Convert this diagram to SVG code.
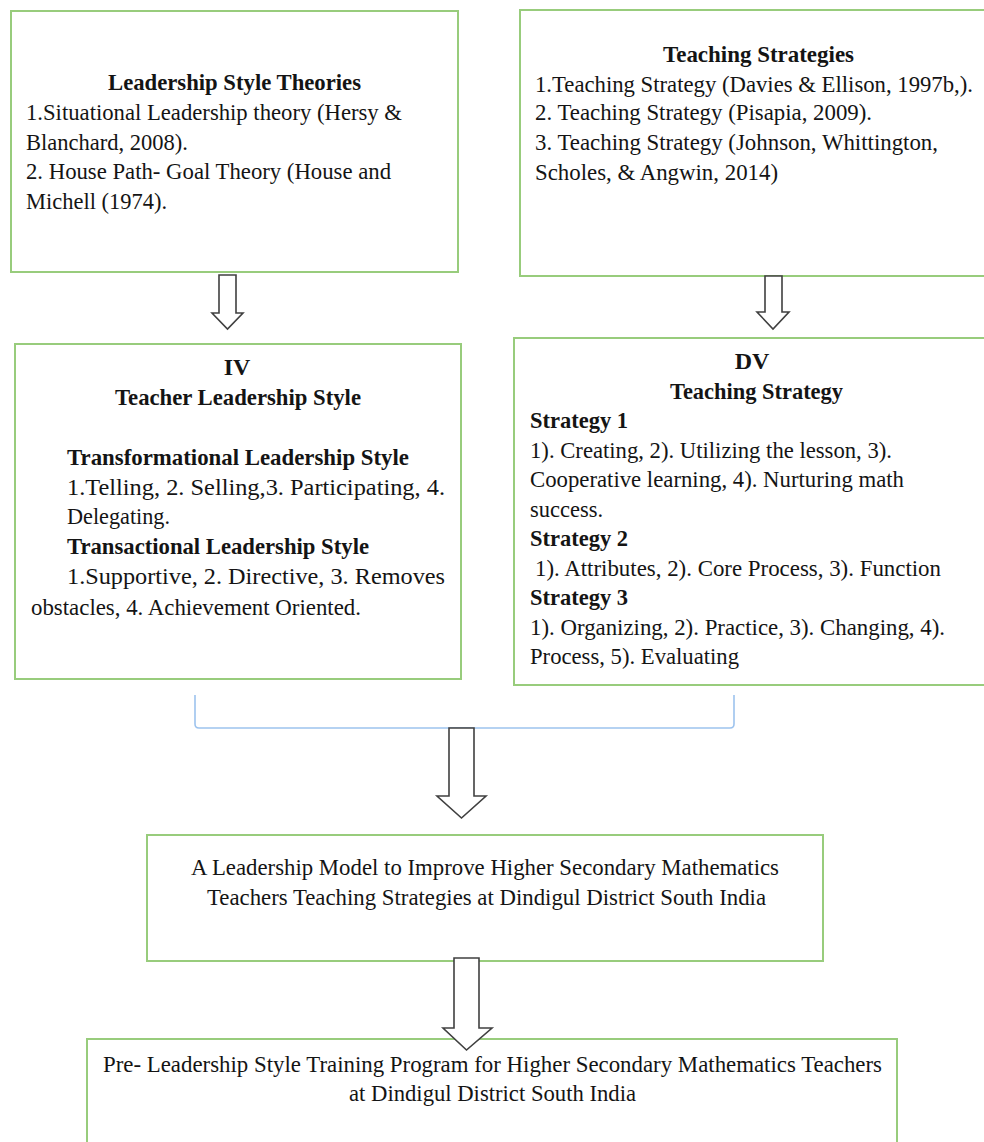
<svg xmlns="http://www.w3.org/2000/svg" width="984" height="1142" viewBox="0 0 984 1142">
<style>
.box{fill:#ffffff;stroke:#98cc7c;stroke-width:2}
.t{font-family:"Liberation Serif","Times New Roman",Times,"DejaVu Serif",serif;font-size:24px;fill:#141414}
.b{font-weight:bold}
.c{text-anchor:middle}
.arrow{fill:#ffffff;stroke:#404040;stroke-width:1.6;stroke-linejoin:miter}
.bracket{fill:none;stroke:#9dc3ee;stroke-width:1.6}
</style>
<rect width="984" height="1142" fill="#ffffff"/>

<g id="node-leadership-theories">
<rect class="box" x="11" y="11" width="447" height="261"/>
<text class="t b c" x="234.5" y="90" textLength="253" lengthAdjust="spacingAndGlyphs">Leadership Style Theories</text>
<text class="t" x="26" y="120" textLength="376" lengthAdjust="spacingAndGlyphs">1.Situational Leadership theory (Hersy &amp;</text>
<text class="t" x="26" y="150" textLength="162" lengthAdjust="spacingAndGlyphs">Blanchard, 2008).</text>
<text class="t" x="26" y="179" textLength="365" lengthAdjust="spacingAndGlyphs">2. House Path- Goal Theory (House and</text>
<text class="t" x="26" y="209" textLength="141" lengthAdjust="spacingAndGlyphs">Michell (1974).</text>
</g>

<g id="node-teaching-strategies">
<rect class="box" x="520" y="10" width="500" height="266"/>
<text class="t b c" x="758.5" y="62" textLength="191" lengthAdjust="spacingAndGlyphs">Teaching Strategies</text>
<text class="t" x="535" y="92" textLength="438" lengthAdjust="spacingAndGlyphs">1.Teaching Strategy (Davies &amp; Ellison, 1997b,).</text>
<text class="t" x="535" y="120" textLength="337" lengthAdjust="spacingAndGlyphs">2. Teaching Strategy (Pisapia, 2009).</text>
<text class="t" x="535" y="150" textLength="403" lengthAdjust="spacingAndGlyphs">3. Teaching Strategy (Johnson, Whittington,</text>
<text class="t" x="535" y="180" textLength="243" lengthAdjust="spacingAndGlyphs">Scholes, &amp; Angwin, 2014)</text>
</g>

<g id="node-iv">
<rect class="box" x="15" y="344" width="446" height="335"/>
<text class="t b c" x="237" y="375">IV</text>
<text class="t b c" x="238" y="405" textLength="246" lengthAdjust="spacingAndGlyphs">Teacher Leadership Style</text>
<text class="t b" x="67" y="465" textLength="342" lengthAdjust="spacingAndGlyphs">Transformational Leadership Style</text>
<text class="t" x="67" y="495" textLength="378" lengthAdjust="spacingAndGlyphs">1.Telling,  2.  Selling,3.  Participating,  4.</text>
<text class="t" x="67" y="524" textLength="103" lengthAdjust="spacingAndGlyphs">Delegating.</text>
<text class="t b" x="67" y="554" textLength="302" lengthAdjust="spacingAndGlyphs">Transactional Leadership Style</text>
<text class="t" x="67" y="584" textLength="378" lengthAdjust="spacingAndGlyphs">1.Supportive,  2.  Directive,  3.  Removes</text>
<text class="t" x="31" y="615" textLength="330" lengthAdjust="spacingAndGlyphs">obstacles, 4. Achievement Oriented.</text>
</g>

<g id="node-dv">
<rect class="box" x="514" y="338" width="510" height="347"/>
<text class="t b c" x="752" y="369">DV</text>
<text class="t b c" x="756.5" y="398.5" textLength="173" lengthAdjust="spacingAndGlyphs">Teaching Strategy</text>
<text class="t b" x="530" y="428" textLength="98" lengthAdjust="spacingAndGlyphs">Strategy 1</text>
<text class="t" x="530" y="457.5" textLength="362" lengthAdjust="spacingAndGlyphs">1). Creating, 2). Utilizing the lesson, 3).</text>
<text class="t" x="530" y="487" textLength="374" lengthAdjust="spacingAndGlyphs">Cooperative learning, 4). Nurturing math</text>
<text class="t" x="530" y="516.5" textLength="73" lengthAdjust="spacingAndGlyphs">success.</text>
<text class="t b" x="530" y="546" textLength="98" lengthAdjust="spacingAndGlyphs">Strategy 2</text>
<text class="t" x="535" y="575.5" textLength="406" lengthAdjust="spacingAndGlyphs">1). Attributes, 2). Core Process, 3). Function</text>
<text class="t b" x="530" y="605" textLength="98" lengthAdjust="spacingAndGlyphs">Strategy 3</text>
<text class="t" x="530" y="634.5" textLength="415" lengthAdjust="spacingAndGlyphs">1). Organizing, 2). Practice, 3). Changing, 4).</text>
<text class="t" x="530" y="664" textLength="209" lengthAdjust="spacingAndGlyphs">Process, 5). Evaluating</text>
</g>

<g id="node-model">
<rect class="box" x="147" y="835" width="676" height="126"/>
<text class="t c" x="485" y="875" textLength="588" lengthAdjust="spacingAndGlyphs">A Leadership Model to Improve Higher Secondary Mathematics</text>
<text class="t c" x="486.5" y="905" textLength="559" lengthAdjust="spacingAndGlyphs">Teachers Teaching Strategies at Dindigul District South India</text>
</g>

<g id="node-training">
<rect class="box" x="87" y="1039" width="810" height="130"/>
<text class="t c" x="492.5" y="1072" textLength="779" lengthAdjust="spacingAndGlyphs">Pre- Leadership Style Training Program for Higher Secondary Mathematics Teachers</text>
<text class="t c" x="492.5" y="1101" textLength="287" lengthAdjust="spacingAndGlyphs">at Dindigul District South India</text>
</g>

<g id="connectors">
<path class="bracket" d="M195,695 L195,724 Q195,728 199,728 L730,728 Q734,728 734,724 L734,695"/>
<polygon class="arrow" points="219,275 236,275 236,313 243,313 227.5,329 212,313 219,313"/>
<polygon class="arrow" points="765,276 782,276 782,312 789,312 773,329 757,312 765,312"/>
<polygon class="arrow" points="449,728 474,728 474,796 486,796 461.5,818 437,796 449,796"/>
<polygon class="arrow" points="454,958 479,958 479,1028 492,1028 466.5,1050 443,1028 454,1028"/>
</g>
</svg>
